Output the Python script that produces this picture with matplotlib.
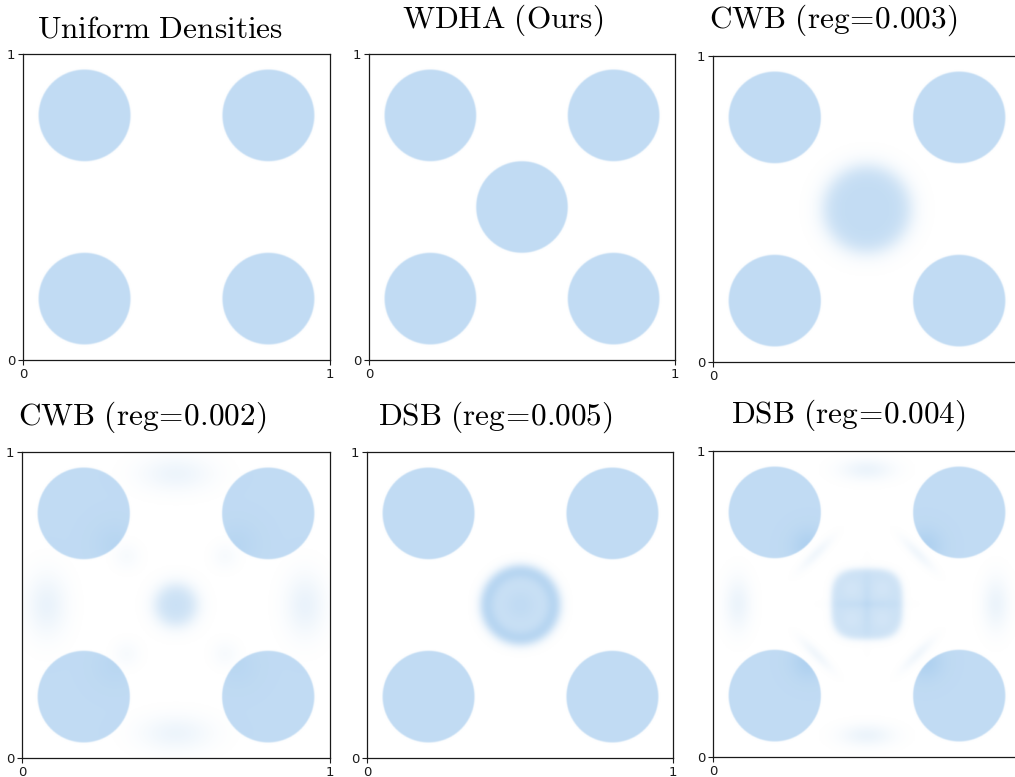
import numpy as np
import matplotlib
matplotlib.use("Agg")
import matplotlib.pyplot as plt
from matplotlib.colors import LinearSegmentedColormap

plt.rcParams['mathtext.fontset'] = 'cm'

# --- DATA ---
GRID = 500
TITLES = [r"$\mathrm{Uniform\ Densities}$", r"$\mathrm{WDHA\ (Ours)}$",
          r"$\mathrm{CWB\ (reg\!=\!0.003)}$", r"$\mathrm{CWB\ (reg\!=\!0.002)}$",
          r"$\mathrm{DSB\ (reg\!=\!0.005)}$", r"$\mathrm{DSB\ (reg\!=\!0.004)}$"]
TICKS = [0, 1]
TICK_LABELS = ["0", "1"]

# the four uniform corner densities
CORNER_X = [0.2, 0.8, 0.2, 0.8]
CORNER_Y = [0.2, 0.2, 0.8, 0.8]
CORNER_R = 0.15

# disks: (cx, cy, r, level, edge, p)   p = norm exponent (2 = circle)
# gauss: (cx, cy, sx, sy, angle_deg, level)
# rings: (cx, cy, r0, width, level)
# inner: (cx, cy, sx, sy, level) -> shading kept inside the corner disks
corners = [(x, y, CORNER_R, 1.0, 0.002, 2) for x, y in zip(CORNER_X, CORNER_Y)]

uniform_disks = corners
wdha_disks = corners + [(0.5, 0.5, 0.15, 1.0, 0.002, 2)]
cwb3_disks = corners + [(0.5, 0.5, 0.14, 0.97, 0.035, 2)]

cwb2_disks = corners + [(0.5, 0.5, 0.065, 0.85, 0.03, 2)]
cwb2_gauss = [(0.08, 0.5, 0.045, 0.07, 0, 0.33), (0.92, 0.5, 0.045, 0.07, 0, 0.33),
              (0.5, 0.93, 0.08, 0.04, 0, 0.28), (0.5, 0.08, 0.08, 0.04, 0, 0.28),
              (0.34, 0.66, 0.03, 0.03, 0, 0.12), (0.66, 0.66, 0.03, 0.03, 0, 0.12),
              (0.34, 0.34, 0.03, 0.03, 0, 0.12), (0.66, 0.34, 0.03, 0.03, 0, 0.12)]
cwb2_inner = [(0.3, 0.7, 0.05, 0.05, 0.13), (0.7, 0.7, 0.05, 0.05, 0.13),
              (0.3, 0.3, 0.05, 0.05, 0.1), (0.7, 0.3, 0.05, 0.05, 0.1)]

dsb5_disks = corners + [(0.5, 0.5, 0.13, 0.85, 0.018, 2)]
dsb5_rings = [(0.5, 0.5, 0.11, 0.025, 0.35)]
dsb5_gauss = [(0.5, 0.5, 0.035, 0.035, 0, 0.15)]

dsb4_disks = corners + [(0.5, 0.5, 0.115, 0.85, 0.012, 3.2)]
dsb4_gauss = [(0.5, 0.5, 0.08, 0.01, 0, 0.1), (0.5, 0.5, 0.01, 0.08, 0, 0.1),
              (0.45, 0.45, 0.025, 0.025, 0, -0.12), (0.55, 0.45, 0.025, 0.025, 0, -0.12),
              (0.45, 0.55, 0.025, 0.025, 0, -0.12), (0.55, 0.55, 0.025, 0.025, 0, -0.12),
              (0.335, 0.665, 0.05, 0.012, 45, 0.22), (0.665, 0.335, 0.05, 0.012, 45, 0.22),
              (0.665, 0.665, 0.05, 0.012, -45, 0.22), (0.335, 0.335, 0.05, 0.012, -45, 0.22),
              (0.08, 0.5, 0.03, 0.06, 0, 0.3), (0.92, 0.5, 0.03, 0.06, 0, 0.3),
              (0.5, 0.94, 0.06, 0.025, 0, 0.3), (0.5, 0.07, 0.06, 0.025, 0, 0.3)]
dsb4_inner = [(0.31, 0.69, 0.04, 0.04, 0.28), (0.69, 0.69, 0.04, 0.04, 0.28),
              (0.31, 0.31, 0.04, 0.04, 0.28), (0.69, 0.31, 0.04, 0.04, 0.28)]

PANELS = [
    dict(disks=uniform_disks),
    dict(disks=wdha_disks),
    dict(disks=cwb3_disks),
    dict(disks=cwb2_disks, gauss=cwb2_gauss, inner=cwb2_inner),
    dict(disks=dsb5_disks, rings=dsb5_rings, gauss=dsb5_gauss),
    dict(disks=dsb4_disks, gauss=dsb4_gauss, inner=dsb4_inner),
]

# layout in pixels: (left, top, right, bottom) and title (x center, baseline)
AX_PX = [(23, 54, 330, 360), (369, 54, 675, 360), (713, 56, 1020, 362),
         (22, 452, 330, 758), (367, 452, 673, 758), (713, 451, 1020, 757)]
TITLE_PX = [(160, 37), (503, 28), (833, 28), (142, 425), (495, 425), (848, 423)]
# right column is cropped at the figure edge, its "1" x label falls outside
CROPPED = [False, False, True, False, False, True]

W, H = 1015, 777
cmap = LinearSegmentedColormap.from_list("dens", ["#ffffff", "#579edf"])

xs = np.linspace(0, 1, GRID)
X, Y = np.meshgrid(xs, xs)


def render(disks=(), gauss=(), rings=(), inner=()):
    dens = np.zeros_like(X)
    for cx, cy, r, lvl, edge, p in disks:
        d = (np.abs(X - cx) ** p + np.abs(Y - cy) ** p) ** (1.0 / p)
        dens += lvl * 0.5 * (1 + np.tanh((r - d) / edge))
    for cx, cy, sx, sy, ang, lvl in gauss:
        a = np.deg2rad(ang)
        u = (X - cx) * np.cos(a) + (Y - cy) * np.sin(a)
        v = -(X - cx) * np.sin(a) + (Y - cy) * np.cos(a)
        dens += lvl * np.exp(-0.5 * ((u / sx) ** 2 + (v / sy) ** 2))
    for cx, cy, r0, w, lvl in rings:
        d = np.hypot(X - cx, Y - cy)
        dens += lvl * np.exp(-((d - r0) / w) ** 2)
    if inner:
        mask = np.zeros_like(X)
        for cx, cy in zip(CORNER_X, CORNER_Y):
            mask = np.maximum(mask, 0.5 * (1 + np.tanh((CORNER_R - np.hypot(X - cx, Y - cy)) / 0.002)))
        for cx, cy, sx, sy, lvl in inner:
            dens += mask * lvl * np.exp(-0.5 * (((X - cx) / sx) ** 2 + ((Y - cy) / sy) ** 2))
    return np.clip(dens, 0, None)


fig = plt.figure(figsize=(W / 100, H / 100), dpi=100)

for i, panel in enumerate(PANELS):
    l, t, r, b = AX_PX[i]
    ax = fig.add_axes([l / W, 1 - b / H, (r - l) / W, (b - t) / H])
    ax.imshow(render(**panel), origin="lower", extent=[0, 1, 0, 1], cmap=cmap,
              vmin=0, vmax=2.7, interpolation="bilinear", aspect="auto")
    ax.set_xlim(0, 1)
    ax.set_ylim(0, 1)
    ax.set_xticks(TICKS)
    ax.set_yticks(TICKS)
    ax.set_xticklabels([TICK_LABELS[0], ""] if CROPPED[i] else TICK_LABELS)
    ax.set_yticklabels(TICK_LABELS)
    ax.tick_params(labelsize=9.5, length=3.5, width=0.8, pad=2, colors="#1a1a1a")
    for s in ax.spines.values():
        s.set_linewidth(0.9)
        s.set_color("#1a1a1a")
    tx, ty = TITLE_PX[i]
    fig.text(tx / W, 1 - ty / H, TITLES[i], ha="center", va="baseline", fontsize=22.5)

fig.savefig("out.png", dpi=100, facecolor="white")
